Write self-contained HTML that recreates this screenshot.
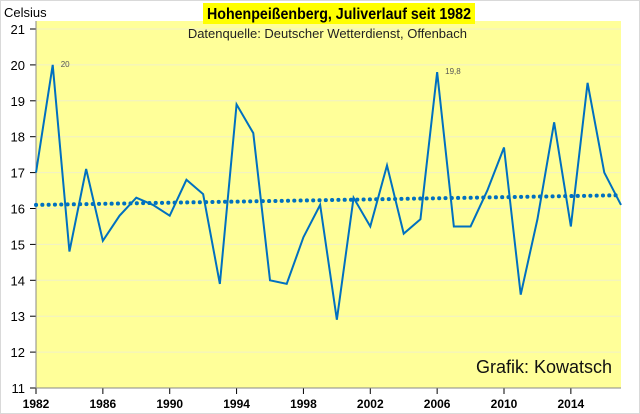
<!DOCTYPE html>
<html><head><meta charset="utf-8"><style>
body{margin:0;background:#fff;}
svg{display:block;font-family:"Liberation Sans",sans-serif;}
</style></head><body>
<svg width="640" height="414">
<rect x="0.5" y="0.5" width="639" height="413" fill="#fff" stroke="#d9d9d9"/>
<rect x="36" y="21" width="585" height="367" fill="#ffff99"/>
<g id="grid"></g>
<g id="axes"></g>
<polyline id="trend" fill="none" stroke="#0070c0" stroke-width="4" stroke-dasharray="0.1 6.2" stroke-linecap="round"/>
<polyline id="series" fill="none" stroke="#0070c0" stroke-width="2"/>
<text x="4" y="17" font-size="13" fill="#000">Celsius</text>
<rect x="203" y="3" width="272" height="21" fill="#ffff00"/>
<text x="207" y="19" font-size="16" font-weight="bold" textLength="264" lengthAdjust="spacingAndGlyphs">Hohenpeißenberg, Juliverlauf seit 1982</text>
<text x="467" y="38" font-size="13" text-anchor="end" fill="#222">Datenquelle: Deutscher Wetterdienst, Offenbach</text>
<text x="612" y="373" font-size="18" text-anchor="end" fill="#111">Grafik: Kowatsch</text>
<text id="lab1" font-size="8" fill="#555"></text>
<text id="lab2" font-size="8" fill="#555"></text>
</svg>
<script>
const years=[1982,1983,1984,1985,1986,1987,1988,1989,1990,1991,1992,1993,1994,1995,1996,1997,1998,1999,2000,2001,2002,2003,2004,2005,2006,2007,2008,2009,2010,2011,2012,2013,2014,2015,2016,2017];
const temps=[17.0,20.0,14.8,17.1,15.1,15.8,16.3,16.1,15.8,16.8,16.4,13.9,18.9,18.1,14.0,13.9,15.2,16.1,12.9,16.3,15.5,17.2,15.3,15.7,19.8,15.5,15.5,16.5,17.7,13.6,15.7,18.4,15.5,19.5,17.0,16.1];
const trendEnds=[16.1,16.37];
const yTicks=[11,12,13,14,15,16,17,18,19,20,21];
const xTicks=[1982,1986,1990,1994,1998,2002,2006,2010,2014];
const NS='http://www.w3.org/2000/svg';
const X=y=>36+(y-1982)*(585/35);
const Y=v=>388-(v-11)*35.9;
const grid=document.getElementById('grid'),axes=document.getElementById('axes');
function mk(tag,attrs,parent){const e=document.createElementNS(NS,tag);for(const k in attrs)e.setAttribute(k,attrs[k]);parent.appendChild(e);return e;}
yTicks.forEach(v=>{
  if(v>11){const g=mk('line',{x1:36,x2:621,y1:Y(v),y2:Y(v),stroke:'#f0f0c8','stroke-width':1},grid);
  
  }
  const t=mk('line',{x1:30,x2:36,y1:Y(v),y2:Y(v),stroke:'#000'},axes);
  
  
  const l=mk('text',{x:25,y:Y(v)+5,'font-size':13,'text-anchor':'end'},axes);
  l.textContent=v;
  
  
});
xTicks.forEach(yr=>{
  const t=mk('line',{x1:X(yr),x2:X(yr),y1:388,y2:394,stroke:'#000'},axes);
  
  
  const l=mk('text',{x:X(yr),y:408,'font-size':12,'font-weight':'bold','text-anchor':'middle'},axes);
  l.textContent=yr;
  
  
});
const ax=mk('path',{d:'M36 21V388H621',fill:'none',stroke:'#888'},axes);


document.getElementById('series').setAttribute('points',years.map((y,i)=>X(y)+','+Y(temps[i])).join(' '));
document.getElementById('trend').setAttribute('points',X(years[0])+','+Y(trendEnds[0])+' '+X(years[years.length-1])+','+Y(trendEnds[1]));
const i1=years.indexOf(1983),i2=years.indexOf(2006);
const l1=document.getElementById('lab1');l1.setAttribute('x',X(1983)+8);l1.setAttribute('y',Y(temps[i1])+2);l1.textContent='20';
const l2=document.getElementById('lab2');l2.setAttribute('x',X(2006)+8);l2.setAttribute('y',Y(temps[i2])+2);l2.textContent='19,8';
</script>
</body></html>
